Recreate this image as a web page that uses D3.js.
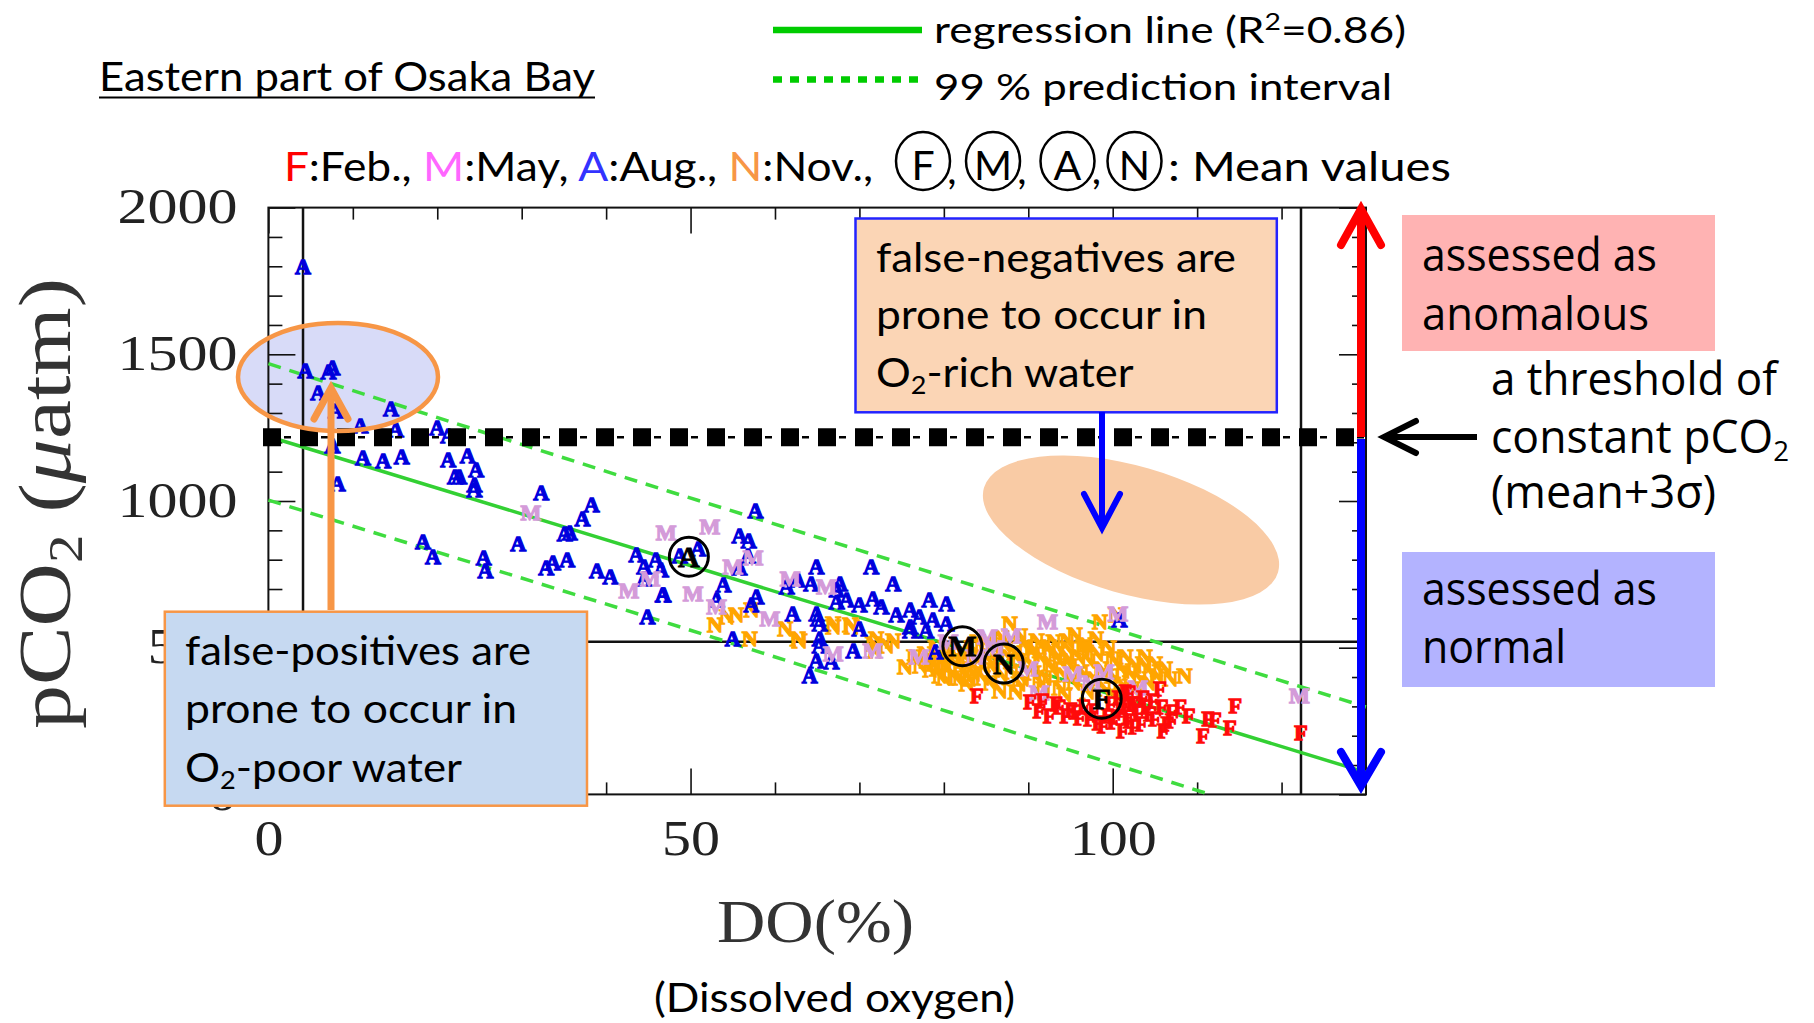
<!DOCTYPE html>
<html>
<head>
<meta charset="utf-8">
<script src="https://cdn.jsdelivr.net/npm/d3@7"></script>
<style>
  body { margin: 0; background: #fff; }
  svg { display: block; }
</style>
</head>
<body>
<svg id="chart" width="1814" height="1023"></svg>
<script>

// ---- data (DO %, pCO2 uatm) ----
var augPts = [[4.1,1798],[4.4,1445],[7.1,1441],[7.6,1456],[5.9,1371],[14.5,1314],[10.9,1259],[8.0,1308],[15.1,1245],
  [20.0,1251],[21.3,1222],[11.2,1148],[13.6,1139],[15.8,1150],[8.2,1060],[7.6,1188],[21.3,1142],[23.6,1156],[24.6,1108],
  [22.1,1085],[22.6,1085],[24.4,1057],[24.4,1040],[32.3,1028],[38.3,988],[37.2,939],[35.1,889],[35.7,891],[29.6,854],
  [18.3,863],[19.5,811],[25.5,808],[25.7,763],[32.9,772],[33.7,789],[35.4,802],[38.9,763],[40.5,743],[43.6,817],
  [44.5,777],[44.5,737],[45.9,800],[46.5,766],[46.7,680],[44.9,606],
  [57.7,969],[55.8,882],[56.9,866],[56.8,814],[55.8,772],[53.9,714],[53.1,663],[57.8,674],[57.2,646],[48.7,814],
  [50.9,837],[46.8,680],[55.0,532],[62.1,618],[61.4,709],[62.7,732],[64.3,720],[64.9,777],[64.9,618],[65.3,583],
  [65.3,532],[64.9,458],[64.1,406],[66.7,452],[67.7,720],[67.3,697],[67.3,657],[68.5,663],[70.0,646],[71.4,777],
  [71.6,669],[72.6,640],[74.0,720],[74.4,612],[69.3,492],[76.0,629],[77.1,606],[78.3,663],[78.7,595],[80.3,652],
  [80.3,583],[76.0,572],[77.9,560],[100.8,595],[65.3,509],[65.1,600],[70.0,566],[79.0,486],[76.0,560]];

var mayPts = [[31.1,962],[42.7,694],[45.2,737],[47.1,894],[52.3,912],[50.3,686],[55.0,777],[57.4,806],[59.4,600],
  [61.8,737],[66.1,709],[66.9,481],[71.6,492],[77.1,469],[53.1,640],[92.3,589],[100.6,618],[122.1,338],[85.2,538],
  [88.0,540],[91.3,349],[95.3,412],[103.0,366],[80.5,520],[83.8,470],[86.0,500],[90.0,430],[97.5,380],[99.0,420]];

var novPts = [[52.9,578],[54.3,606],[55.4,612],[57.2,629],[57.0,532],[61.2,566],[62.7,532],[66.9,583],[68.9,578],
  [62.9,526],[66.9,572],[69.1,572],[72.0,532],[73.2,509],[71.8,492],[74.0,526],[75.4,437],[71.6,515],[78.7,446],
  [79.5,406],[81.5,400],[80.7,423],[81.9,400],[82.7,378],[79.5,481],[83.5,412],[84.3,446],[87.8,583],[98.5,589],
  [100.4,612],[108.5,406],[96.5,498],[94.7,498],[92.5,492],[103.6,446],[105.2,406],[100.0,464],[101.2,423],[90.6,481],
  [92.5,446],[94.5,469],[96.5,503],[91.3,389],[93.7,366],[88.9,378],[86.6,355],
  [76.5,470],[77.2,440],[78.0,455],[78.4,425],[79.0,500],[79.6,462],[80.1,438],[80.6,490],[81.0,455],[81.4,470],
  [82.0,430],[82.4,480],[82.9,455],[83.3,500],[83.8,430],[84.2,475],[84.6,400],[85.0,515],[85.4,455],[85.9,425],[86.3,490],
  [87.2,510],[87.6,470],[88.0,420],[88.4,485],[88.9,455],[89.3,395],[89.7,505],[90.2,445],[90.6,415],[91.0,525],[91.4,470],
  [92.0,400],[92.4,505],[92.8,430],[93.2,480],[93.7,455],[94.1,410],[94.6,525],[95.0,440],[95.4,380],[95.9,470],[96.3,420],
  [96.8,510],[97.2,455],[97.7,395],[98.1,480],[98.6,430],[99.0,360],[99.5,500],[99.9,405],[100.4,450],[100.9,380],
  [101.5,470],[102.0,415],[102.6,440],[103.2,395],[103.8,470],[104.4,420],[105.0,445],[106.2,430],[106.8,395],
  [84.0,520],[86.8,535],[89.0,540],[93.0,520],[95.5,545],[98.0,530],[80.0,400],[85.5,380],[88.5,350],[91.8,360],
  [94.3,340],[97.0,350],[100.0,340],[102.4,360],[104.2,380],[77.8,480],[79.2,430],[83.0,395],[86.8,410],[90.4,500]];

var febPts = [[83.9,338],[114.5,304],[113.9,229],[110.7,201],[111.3,258],[112.1,255],[122.3,212],[107.0,281],[107.0,252],
  [106.0,218],[105.6,361],[104.8,321],[104.4,275],[103.4,241],
  [90.2,315],[91.3,287],[91.7,321],[92.5,269],[93.3,309],[93.7,298],[94.5,269],[95.1,290],[95.7,281],[96.1,262],
  [96.6,300],[97.3,258],[97.8,285],[98.3,245],[98.9,235],[99.4,270],[99.8,309],[100.1,250],[100.4,264],[100.7,330],
  [101.0,290],[101.2,218],[101.5,350],[101.6,298],[101.8,265],[102.0,349],[102.0,252],[102.3,310],[102.6,230],
  [102.8,309],[103.1,280],[103.6,330],[104.0,300],[105.0,260],[105.8,300],[106.5,240],[108.0,300],[109.0,270]];

var meanPts = [{m:'A', x:49.8, y:810}, {m:'M', x:82.2, y:505}, {m:'N', x:87.1, y:446}, {m:'F', x:98.7, y:326}];

var regLine = [[0,1220],[130,75]];
var piUpper = [[0,1468],[47.3,1034],[130,298]];
var piLower = [[0,1003],[47.3,584],[111.5,0]];
var threshold = 1217;
var innerX = [4.1, 122.3];
var innerY = 520;

var xMajor = [0, 50, 100];
var yMajor = [0, 500, 1000, 1500, 2000];

var svg = d3.select('#chart');
svg.append('rect').attr('width',1814).attr('height',1023).attr('fill','#fff');

var x = d3.scaleLinear().domain([0,130]).range([268.4,1366]);
var y = d3.scaleLinear().domain([0,2000]).range([794.4,207.6]);

var sans = 'Lato, "Open Sans", sans-serif';
var wide = '"Open Sans", "Noto Sans", sans-serif';
var serif = '"Liberation Serif", "DejaVu Serif", serif';

// text helper: width forced with textLength
function txt(g, str, px, py, size, fam, len, anchor){
  var t = g.append('text').attr('x',px).attr('y',py)
    .attr('font-size',size).attr('font-family',fam).attr('fill','#000')
    .text(str);
  if(len) t.attr('textLength',len).attr('lengthAdjust','spacingAndGlyphs');
  if(anchor) t.attr('text-anchor',anchor);
  return t;
}
// text with a subscript 2 between two parts
function txtSub(g, before, after, px, py, size, fam, len){
  var t = g.append('text').attr('x',px).attr('y',py)
    .attr('font-size',size).attr('font-family',fam).attr('fill','#000')
    .attr('textLength',len).attr('lengthAdjust','spacingAndGlyphs');
  t.append('tspan').text(before);
  t.append('tspan').attr('font-size',size*0.62).attr('dy',size*0.18).text('2');
  if(after) t.append('tspan').attr('dy',-size*0.18).text(after);
  return t;
}

// ---- ellipses under the data ----
var hi = svg.append('g');
hi.append('ellipse').attr('cx',338).attr('cy',377).attr('rx',100).attr('ry',54).attr('fill','#d8dbf8');
hi.append('ellipse').attr('cx',1131).attr('cy',530).attr('rx',153).attr('ry',64)
  .attr('transform','rotate(16,1131,530)').attr('fill','#f9cba5');

// ---- frame and ticks ----
var plot = svg.append('g');
function ticks(axis, vals, size, tx, ty){
  var g = plot.append('g').attr('transform','translate('+tx+','+ty+')')
    .call(axis.tickValues(vals).tickSize(size).tickSizeOuter(0).tickFormat(''));
  g.select('.domain').remove();
  g.selectAll('line').attr('stroke','#111').attr('stroke-width',1.6);
  return g;
}
var xMinor = d3.range(10,130,10).filter(function(d){ return xMajor.indexOf(d) < 0; });
var yMinor = d3.range(100,2000,100).filter(function(d){ return yMajor.indexOf(d) < 0; });
ticks(d3.axisTop(x), xMajor, -26, 0, 207.6);
ticks(d3.axisTop(x), xMinor, -12, 0, 207.6);
ticks(d3.axisBottom(x), xMajor, -26, 0, 794.4);
ticks(d3.axisBottom(x), xMinor, -12, 0, 794.4);
ticks(d3.axisLeft(y), yMajor, -27, 268.4, 0);
ticks(d3.axisLeft(y), yMinor, -14, 268.4, 0);
ticks(d3.axisRight(y), yMajor, -27, 1366, 0);
ticks(d3.axisRight(y), yMinor, -14, 1366, 0);

plot.append('rect').attr('x',x(0)).attr('y',y(2000)).attr('width',x(130)-x(0)).attr('height',y(0)-y(2000))
  .attr('fill','none').attr('stroke','#111').attr('stroke-width',2);
plot.selectAll('line.inner').data(innerX).join('line').attr('class','inner')
  .attr('x1',d => x(d)).attr('x2',d => x(d)).attr('y1',y(2000)).attr('y2',y(0))
  .attr('stroke','#111').attr('stroke-width',2.5);
plot.append('line').attr('x1',x(0)).attr('x2',x(130)).attr('y1',y(innerY)).attr('y2',y(innerY))
  .attr('stroke','#111').attr('stroke-width',2.5);

// tick labels
var yl = svg.append('g').attr('transform','translate(268.4,0)')
  .call(d3.axisLeft(y).tickValues(yMajor).tickSize(0).tickPadding(31).tickFormat(d3.format('d')));
yl.select('.domain').remove();
yl.selectAll('text').attr('font-family',serif).attr('font-size',50).attr('fill','#222')
  .attr('dy',null).attr('y',15)
  .attr('textLength',d => String(d).length*30).attr('lengthAdjust','spacingAndGlyphs');
var xl = svg.append('g').attr('transform','translate(0,794.4)')
  .call(d3.axisBottom(x).tickValues(xMajor).tickSize(0).tickFormat(d3.format('d')));
xl.select('.domain').remove();
xl.selectAll('text').attr('font-family',serif).attr('font-size',50).attr('fill','#222')
  .attr('dy',null).attr('y',61)
  .attr('textLength',d => String(d).length*29).attr('lengthAdjust','spacingAndGlyphs');

// ---- regression line and prediction interval ----
var line = d3.line().x(d => x(d[0])).y(d => y(d[1]));
svg.append('path').attr('d',line(piUpper)).attr('fill','none').attr('stroke','#3fdc3f')
  .attr('stroke-width',3.5).attr('stroke-dasharray','13 9');
svg.append('path').attr('d',line(piLower)).attr('fill','none').attr('stroke','#3fdc3f')
  .attr('stroke-width',3.5).attr('stroke-dasharray','13 9');
svg.append('path').attr('d',line(regLine)).attr('fill','none').attr('stroke','#33d033').attr('stroke-width',3.5);

// ---- data points ----
var series = [
  {key:'N', color:'#ffa500', pts:novPts},
  {key:'A', color:'#0000dd', pts:augPts},
  {key:'M', color:'#d49bd9', pts:mayPts},
  {key:'F', color:'#ff0a0a', pts:febPts}
];
series.forEach(function(s){
  svg.append('g').selectAll('text').data(s.pts).join('text')
    .attr('x',d => x(d[0])).attr('y',d => y(d[1]) + 7.5)
    .attr('text-anchor','middle').attr('font-family',serif).attr('font-weight','bold')
    .attr('font-size',22).attr('fill',s.color).attr('stroke',s.color).attr('stroke-width',1.3)
    .text(s.key);
});
var means = svg.append('g').selectAll('g').data(meanPts).join('g')
  .attr('transform',d => 'translate('+x(d.x)+','+y(d.y)+')');
means.append('circle').attr('r',19.5).attr('fill','none').attr('stroke','#000').attr('stroke-width',3);
means.append('text').attr('text-anchor','middle').attr('y',10).attr('font-family',serif)
  .attr('font-weight','bold').attr('font-size',30).attr('stroke','#000').attr('stroke-width',0.8)
  .text(d => d.m);

// ---- threshold line ----
svg.append('line').attr('x1',263).attr('x2',x(130)).attr('y1',y(threshold)).attr('y2',y(threshold))
  .attr('stroke','#000').attr('stroke-width',2.5).attr('stroke-dasharray','7 30').attr('stroke-dashoffset',-21);
svg.append('line').attr('x1',263).attr('x2',x(130)).attr('y1',y(threshold)).attr('y2',y(threshold))
  .attr('stroke','#000').attr('stroke-width',18).attr('stroke-dasharray','18 19');

// ellipse outline on top
svg.append('ellipse').attr('cx',338).attr('cy',377).attr('rx',100).attr('ry',54)
  .attr('fill','none').attr('stroke','#f79646').attr('stroke-width',4.5);

// ---- arrows ----
function arrow(pts, head, color, w){
  var g = svg.append('g').attr('fill','none').attr('stroke',color).attr('stroke-width',w);
  g.append('path').attr('d','M'+pts[0]+'L'+pts[1]);
  g.append('path').attr('d','M'+head[0]+'L'+head[1]+'L'+head[2])
    .attr('stroke-linecap','round').attr('stroke-linejoin','miter');
}

// ---- annotation boxes ----
var ann = svg.append('g');
ann.append('rect').attr('x',855.5).attr('y',218.5).attr('width',421.3).attr('height',193.8)
  .attr('fill','#fbd5b5').attr('stroke','#2323ff').attr('stroke-width',2.5);
txt(ann,'false-negatives are',876,271.7,41,sans,360);
txt(ann,'prone to occur in',876,328.5,41,sans,331);
txtSub(ann,'O','-rich water',876,386.7,41,sans,257.6);
arrow([[1102,412],[1102,525]], [[1084,494],[1102,528],[1120,494]], '#0000ff', 6);

ann.append('rect').attr('x',164.8).attr('y',611.7).attr('width',422.2).attr('height',194)
  .attr('fill','#c6d9f1').attr('stroke','#f79646').attr('stroke-width',2.5);
txt(ann,'false-positives are',185,665,41,sans,346);
txt(ann,'prone to occur in',185,722.7,41,sans,332);
txtSub(ann,'O','-poor water',185,781.7,41,sans,277);
arrow([[331,610],[331,392]], [[314,419],[331,388],[348,419]], '#f79646', 7);

// right side
arrow([[1361,437],[1361,211]], [[1341,245],[1361,209],[1381,245]], '#ff0000', 8);
arrow([[1361,439],[1361,783]], [[1341,752],[1361,786],[1381,752]], '#0000ff', 8);
arrow([[1477,437],[1388,437]], [[1416,421],[1384,437],[1416,453]], '#000', 6);

ann.append('rect').attr('x',1402).attr('y',215).attr('width',313).attr('height',136).attr('fill','#ffb3b3');
txt(ann,'assessed as',1422,271,45,wide,235);
txt(ann,'anomalous',1422,330,45,wide,227);
ann.append('rect').attr('x',1402).attr('y',552).attr('width',313).attr('height',135).attr('fill','#b3b3ff');
txt(ann,'assessed as',1422,605,45,wide,235);
txt(ann,'normal',1422,663,45,wide,144);
txt(ann,'a threshold of',1491,395,45,wide,286);
txtSub(ann,'constant pCO','',1491,453,45,wide,298);
txt(ann,'(mean+3\u03c3)',1491,508,45,wide,225);

// ---- titles and legend ----
var hdr = svg.append('g');
txt(hdr,'Eastern part of Osaka Bay',99,91,41,sans,496);
hdr.append('line').attr('x1',99).attr('x2',595).attr('y1',97.5).attr('y2',97.5).attr('stroke','#000').attr('stroke-width',2);

hdr.append('line').attr('x1',773).attr('x2',922).attr('y1',30).attr('y2',30).attr('stroke','#00cc00').attr('stroke-width',6.5);
hdr.append('line').attr('x1',773).attr('x2',922).attr('y1',79.5).attr('y2',79.5).attr('stroke','#00cc00')
  .attr('stroke-width',6.5).attr('stroke-dasharray','9 8');
var rl = hdr.append('text').attr('x',934).attr('y',42.7).attr('font-size',36).attr('font-family',sans)
  .attr('textLength',472).attr('lengthAdjust','spacingAndGlyphs');
rl.append('tspan').text('regression line (R');
rl.append('tspan').attr('font-size',23).attr('dy',-13).text('2');
rl.append('tspan').attr('dy',13).text('=0.86)');
txt(hdr,'99 % prediction interval',934,100,36,sans,458);

var months = [['F','#ff0000',':Feb., '],['M','#ff66ff',':May, '],['A','#3333ff',':Aug., '],['N','#f79646',':Nov.,']];
var ml = hdr.append('text').attr('x',284).attr('y',181).attr('font-size',41).attr('font-family',sans)
  .attr('textLength',589).attr('lengthAdjust','spacingAndGlyphs');
months.forEach(function(m){
  ml.append('tspan').attr('fill',m[1]).text(m[0]);
  ml.append('tspan').attr('fill','#000').text(m[2]);
});
var circX = [923, 993, 1067.5, 1134.5];
months.forEach(function(m,i){
  hdr.append('ellipse').attr('cx',circX[i]).attr('cy',161).attr('rx',27).attr('ry',29)
    .attr('fill','none').attr('stroke','#000').attr('stroke-width',2.5);
  txt(hdr,m[0],circX[i],180,41,sans,null,'middle');
  if(i < 3) txt(hdr,',',circX[i]+29,184,41,sans,null,'middle');
});
txt(hdr,': Mean values',1168,181,41,sans,283);

// axis titles
var yt = svg.append('text').attr('transform','translate(70,503.5) rotate(-90)')
  .attr('text-anchor','middle').attr('font-family',serif).attr('font-size',74).attr('fill','#333')
  .attr('textLength',451).attr('lengthAdjust','spacingAndGlyphs');
yt.append('tspan').text('pCO');
yt.append('tspan').attr('font-size',48).attr('dy',12).text('2');
yt.append('tspan').attr('dy',-12).text(' (');
yt.append('tspan').attr('font-style','italic').text('\u03bc');
yt.append('tspan').text('atm)');
txt(svg,'DO(%)',815.5,941.7,62,serif,197,'middle').attr('fill','#333');
txt(svg,'(Dissolved oxygen)',834.5,1012,40,sans,361,'middle');

</script>
</body>
</html>
